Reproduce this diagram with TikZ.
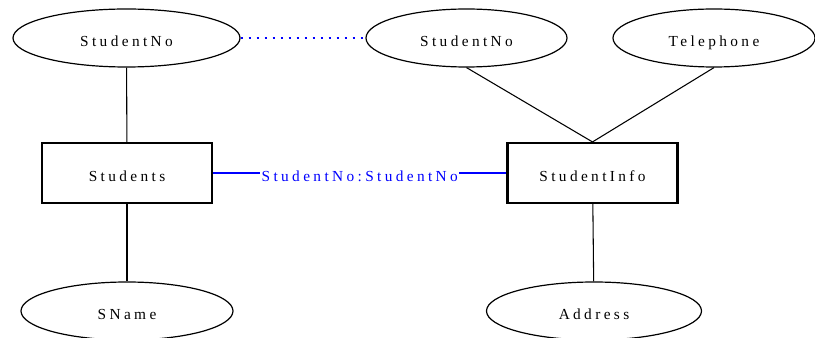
\documentclass[tikz,border=0pt]{standalone}
\usepackage{fontspec}
\usetikzlibrary{shapes.geometric}
\setmainfont{Liberation Serif}
\newfontfamily\erfamily[LetterSpace=22]{Liberation Serif}

\begin{document}
\begin{tikzpicture}[x=0.75pt, y=-0.75pt,
    erfont/.style={font=\erfamily\fontsize{11.5pt}{13pt}\selectfont, text=black, text height=13.5pt, text depth=0pt},
    attr/.style={ellipse, draw, line width=0.9pt, inner sep=0pt, minimum height=43.5pt, erfont},
    entity/.style={rectangle, draw, line width=1.6pt, inner sep=0pt, minimum width=127.5pt, minimum height=45pt, erfont},
    link/.style={line width=0.8pt},
    keylink/.style={line width=1pt, blue, dash pattern=on 1.8pt off 4.2pt}]

    % Frame (pixels of the reference, y downwards)
    \useasboundingbox (0,0) rectangle (815,338);

    % Attributes, top row
    \node[attr, minimum width=170.25pt] (snoa) at (126.5, 38) {StudentNo};
    \node[attr, minimum width=150.75pt] (snob) at (466.5, 38) {StudentNo};
    \node[attr, minimum width=151.5pt]  (tel)  at (714, 38)   {Telephone};

    % Entities
    \node[entity] (students) at (127, 173)   {Students};
    \node[entity] (info)     at (592.5, 173) {StudentInfo};

    % Attributes, bottom row
    \node[attr, minimum width=159pt]    (sname) at (127, 311) {SName};
    \node[attr, minimum width=161.25pt] (addr)  at (594, 311) {Address};

    % Edges
    \draw[link] (snoa) -- (students);
    \draw[link] (students) -- (sname);
    \draw[link] (info.north) -- (snob.south);
    \draw[link] (info.north) -- (tel.south);
    \draw[link] (info) -- (addr);

    % Key match
    \draw[keylink] (snoa) -- (snob);
    \draw[link, blue] (students) -- (info)
        node[midway, fill=white, inner sep=1pt, erfont, text=blue] (match) {StudentNo:StudentNo};

\end{tikzpicture}
\end{document}
